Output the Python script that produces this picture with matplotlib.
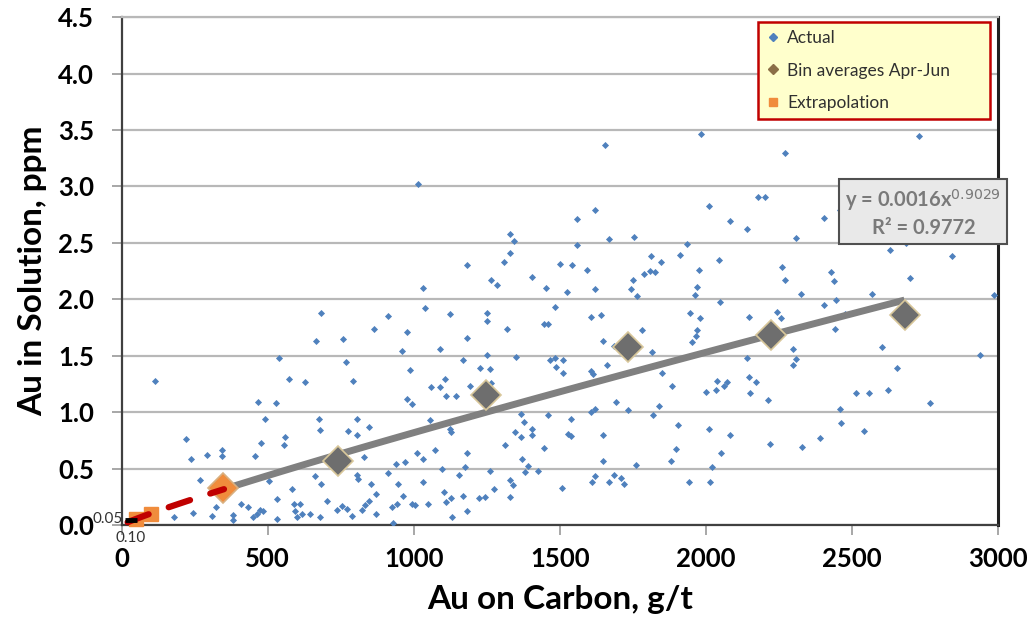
import numpy as np
import matplotlib
matplotlib.use("Agg")
import matplotlib.pyplot as plt
from matplotlib.lines import Line2D

plt.rcParams['font.family'] = ['Lato', 'DejaVu Sans']

# Actual data (Au on carbon g/t, Au in solution ppm)
actual_x = [682, 913,
    1014, 1653, 1983, 2009, 1619, 1557, 1328, 1344, 1557, 1667, 1753, 1937, 1329, 1310, 1181, 1500,
    1542, 1592, 1812, 1848, 1913, 1977, 1788, 1809, 1826, 1751, 1403, 1264, 1284, 1030, 1453, 1526,
    1622, 1743, 1765, 1969, 1963, 1039, 1124, 1249, 1251, 1483, 1607, 1640, 1947, 1979, 1444, 1461,
    2728, 2270, 2177, 2202, 2083, 2141, 2406, 2459, 2310, 2629, 2686, 2841, 2046, 2259, 2270, 2427,
    2438, 2700, 2326, 2568, 2049, 2406, 2446, 2986, 2148, 2245, 2256, 2477,
    862, 978, 664, 758, 959, 540, 769, 987, 113, 572, 629, 791, 468, 528, 976, 994, 489, 676, 679,
    805, 776, 804, 848, 220, 475, 560, 554, 342, 342, 292, 237, 457, 828, 913, 940, 969, 269, 503,
    662, 683, 805, 808, 853, 945, 582, 871, 962, 531, 322, 245, 179, 309, 407, 431, 474, 485, 462,
    451, 382, 382, 531, 588, 611, 594, 616, 599, 645, 679, 702, 736, 753, 770, 788, 822, 833, 845,
    871, 925, 944, 928, 995,
    1318, 1181, 1088, 1249, 1167, 1349, 1227, 1260, 1106, 1058, 1091, 1192, 1265, 1110, 1145, 1467,
    1482, 1486, 1510, 1510, 1647, 1687, 1781, 1815, 1607, 1612, 1661, 1849, 1884, 1952, 1967, 1969,
    2000, 1693, 1607, 1621, 1732, 1818, 1838, 1904, 2009, 1056, 1124, 1128, 1368, 1376, 1345, 1368,
    1406, 1404, 1461, 1539, 1527, 1539, 1647, 1313, 1444, 1010, 1071, 1181, 1033, 1372, 1898, 1880,
    1647, 1761, 1096, 1176, 1155, 1260, 1390, 1379, 1425, 1033, 1328, 1338, 1276, 1507, 1621, 1610,
    1669, 1686, 1710, 1718, 1941, 1102, 1128, 1170, 1224, 1242, 1328, 1004, 1048, 1110, 1181, 1130,
    2443, 2603, 2939, 2298, 2309, 2298, 2141, 2654, 2038, 2034, 2063, 2072, 2146, 2171, 2152, 2211,
    2514, 2560, 2622, 2768, 2460, 2463, 2542, 2391, 2083, 2220, 2329, 2052, 2020, 2015]
actual_y = [1.88, 1.85,
    3.02, 3.37, 3.46, 2.83, 2.79, 2.71, 2.58, 2.52, 2.48, 2.53, 2.55, 2.49, 2.41, 2.33, 2.30, 2.31,
    2.30, 2.26, 2.38, 2.33, 2.39, 2.26, 2.22, 2.25, 2.24, 2.17, 2.20, 2.17, 2.13, 2.10, 2.10, 2.06,
    2.09, 2.09, 2.03, 2.11, 2.04, 1.92, 1.87, 1.88, 1.81, 1.93, 1.84, 1.86, 1.88, 1.83, 1.78, 1.78,
    3.45, 3.30, 2.91, 2.91, 2.69, 2.62, 2.72, 2.79, 2.54, 2.44, 2.50, 2.38, 2.35, 2.29, 2.17, 2.24,
    2.16, 2.19, 2.05, 2.05, 1.98, 1.95, 1.99, 2.04, 1.84, 1.89, 1.83, 1.87,
    1.74, 1.71, 1.63, 1.65, 1.54, 1.48, 1.44, 1.37, 1.28, 1.29, 1.27, 1.28, 1.09, 1.08, 1.12, 1.07,
    0.94, 0.94, 0.84, 0.94, 0.83, 0.80, 0.87, 0.76, 0.73, 0.78, 0.71, 0.66, 0.61, 0.62, 0.58, 0.61,
    0.60, 0.46, 0.54, 0.56, 0.40, 0.39, 0.43, 0.36, 0.44, 0.41, 0.36, 0.36, 0.32, 0.27, 0.26, 0.23,
    0.16, 0.11, 0.07, 0.08, 0.19, 0.16, 0.13, 0.12, 0.10, 0.07, 0.09, 0.04, 0.05, 0.19, 0.19, 0.12,
    0.10, 0.07, 0.10, 0.07, 0.21, 0.13, 0.17, 0.14, 0.08, 0.13, 0.18, 0.21, 0.10, 0.16, 0.19, 0.02,
    0.19,
    1.74, 1.66, 1.56, 1.51, 1.46, 1.49, 1.39, 1.38, 1.29, 1.22, 1.22, 1.23, 1.26, 1.14, 1.14, 1.46,
    1.48, 1.40, 1.46, 1.35, 1.63, 1.59, 1.73, 1.53, 1.36, 1.34, 1.42, 1.35, 1.23, 1.62, 1.67, 1.73,
    1.18, 1.09, 1.00, 1.03, 1.02, 0.97, 1.05, 0.89, 0.85, 0.93, 0.85, 0.82, 0.98, 0.91, 0.82, 0.78,
    0.85, 0.80, 0.97, 0.94, 0.81, 0.79, 0.80, 0.71, 0.68, 0.64, 0.66, 0.64, 0.58, 0.58, 0.67, 0.57,
    0.57, 0.53, 0.50, 0.51, 0.44, 0.48, 0.52, 0.47, 0.48, 0.38, 0.40, 0.35, 0.32, 0.33, 0.43, 0.38,
    0.38, 0.44, 0.42, 0.36, 0.38, 0.29, 0.24, 0.26, 0.24, 0.25, 0.25, 0.18, 0.19, 0.20, 0.12, 0.07,
    1.74, 1.58, 1.51, 1.56, 1.47, 1.42, 1.48, 1.39, 1.28, 1.20, 1.23, 1.27, 1.31, 1.27, 1.17, 1.11,
    1.17, 1.17, 1.20, 1.08, 1.03, 0.90, 0.83, 0.77, 0.80, 0.72, 0.69, 0.64, 0.51, 0.38]

# Bin averages Apr-Jun
bin_x = [742, 1248, 1735, 2224, 2683]
bin_y = [0.57, 1.15, 1.58, 1.68, 1.86]
# first bin (drawn orange)
first_bin_x = [346]
first_bin_y = [0.33]

# Extrapolation points
extrap_x = [50, 100]
extrap_y = [0.05, 0.10]

# power trendline shown on the chart: y = 0.0016 x^0.9029
fit_a = 0.0016
fit_b = 0.9029
trend_range = (350, 2680)
extrap_range = (20, 350)

fig = plt.figure(figsize=(10.32, 6.34), dpi=100)
ax = fig.add_axes([0.118, 0.172, 0.849, 0.801])

ax.set_xlim(0, 3000)
ax.set_ylim(0, 4.5)
ax.set_xticks(np.arange(0, 3001, 500))
ax.set_yticks(np.arange(0, 4.51, 0.5))
ax.set_yticklabels([f"{v:.1f}" for v in np.arange(0, 4.51, 0.5)])
ax.yaxis.grid(True, color='#b8b8b8', linewidth=1.6)
ax.set_axisbelow(True)
ax.tick_params(axis='both', labelsize=18.5, length=7, width=1.3, color='#a0a0a0')
ax.tick_params(axis='x', pad=9)
ax.tick_params(axis='y', pad=13)
for lab in ax.get_xticklabels() + ax.get_yticklabels():
    lab.set_fontweight('bold')
for s in ['left', 'bottom']:
    ax.spines[s].set_color('#404040')
    ax.spines[s].set_linewidth(1.6)
ax.spines['right'].set_color('#202020')
ax.spines['right'].set_linewidth(2.2)
ax.spines['top'].set_color('#b8b8b8')
ax.spines['top'].set_linewidth(1.6)

ax.scatter(actual_x, actual_y, marker='D', s=13, color='#4f81bd', zorder=3, linewidths=0)

tx = np.linspace(*trend_range, 50)
ax.plot(tx, fit_a * tx ** fit_b, color='#808080', linewidth=5, solid_capstyle='butt', zorder=4)

ax.plot(bin_x, bin_y, linestyle='none', marker='D', markersize=15, markerfacecolor='#6e6e6e',
        markeredgecolor='#d8c79a', markeredgewidth=1.2, zorder=5)
ax.plot(first_bin_x, first_bin_y, linestyle='none', marker='D', markersize=15,
        markerfacecolor='#f08c3c', markeredgecolor='#d8b080', markeredgewidth=1.2, zorder=5)

ax.plot(extrap_x, extrap_y, linestyle='none', marker='s', markersize=10, color='#f08c3c',
        zorder=5, clip_on=False)
ex = np.linspace(*extrap_range, 50)
ax.plot(ex, fit_a * ex ** fit_b, color='#c00000', linewidth=4.5, dashes=(3.6, 3.4),
        dash_capstyle='round', zorder=6, clip_on=False)
ax.plot([30], [0.045], marker='_', markersize=8, markeredgewidth=3.5, color='black',
        zorder=7, clip_on=False)

ax.text(4, 0.05, "0.05", ha='right', va='center', fontsize=11, color='#333333', clip_on=False)
ax.text(30, -0.115, "0.10", ha='center', va='center', fontsize=11, color='#333333', clip_on=False)

ax.set_xlabel("Au on Carbon, g/t", fontsize=24, fontweight='bold', labelpad=10)
ax.set_ylabel("Au in Solution, ppm", fontsize=24, fontweight='bold', labelpad=8)

handles = [
    Line2D([], [], linestyle='none', marker='D', markersize=4, color='#4f81bd'),
    Line2D([], [], linestyle='none', marker='D', markersize=5, color='#8b6f47'),
    Line2D([], [], linestyle='none', marker='s', markersize=6, color='#f08c3c'),
]
leg = ax.legend(handles, ["Actual", "Bin averages Apr-Jun", "Extrapolation"],
                loc='upper left', bbox_to_anchor=(0.726, 0.797, 0.265, 0.193), mode='expand',
                fontsize=12.5, frameon=True, fancybox=False, labelspacing=0.95,
                handlelength=0.8, handletextpad=0.45, borderpad=0.45, borderaxespad=0)
leg.get_frame().set_facecolor('#ffffcc')
leg.get_frame().set_edgecolor('#c00000')
leg.get_frame().set_linewidth(1.8)
leg.get_frame().set_alpha(1)
for t in leg.get_texts():
    t.set_color('#303030')

ax.text(2745, 2.77, "y = 0.0016x$^{0.9029}$\nR² = 0.9772", ha='center', va='center',
        fontsize=14.5, fontweight='bold', color='#7a7a7a', linespacing=1.3, zorder=8,
        bbox=dict(boxstyle='square,pad=0.3', facecolor='#e9e9e9', edgecolor='#505050',
                  linewidth=1.5))

fig.savefig("out.png", dpi=100)
